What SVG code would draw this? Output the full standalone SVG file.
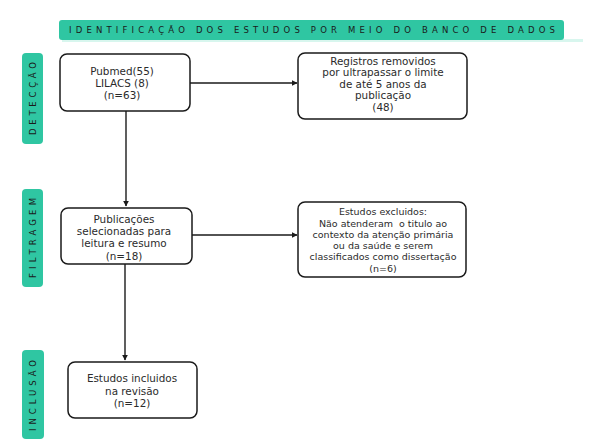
<svg xmlns="http://www.w3.org/2000/svg" width="595" height="444" viewBox="0 0 595 444">
<defs>
<marker id="ah" viewBox="0 0 10 10" refX="9" refY="5" markerWidth="6" markerHeight="6" markerUnits="userSpaceOnUse" orient="auto">
<path d="M0,0 L10,5 L0,10 z" fill="#1a1a1a"/>
</marker>
<style>
.bar{fill:#2fc6a2}
.box{fill:#ffffff;stroke:#1a1a1a;stroke-width:1.5}
.t{font-family:"DejaVu Sans",sans-serif;font-size:10.4px;fill:#2b2b2b;text-anchor:middle}
.ts{font-family:"DejaVu Sans",sans-serif;font-size:9.5px;fill:#2b2b2b;text-anchor:middle}
.lab{font-family:"DejaVu Sans",sans-serif;font-size:8.5px;fill:#1a1a1a;text-anchor:middle}
.c{fill:none;stroke:#1a1a1a;stroke-width:1.4}
</style>
</defs>
<rect width="595" height="444" fill="#ffffff"/>
<g id="title">
<rect x="62" y="39" width="521" height="3" fill="#d8f6ee"/>
<rect class="bar" x="59" y="20" width="505" height="20" rx="3"/>
<text class="lab" x="69" y="33.2" style="text-anchor:start" textLength="486" lengthAdjust="spacing">IDENTIFICAÇÃO DOS ESTUDOS POR MEIO DO BANCO DE DADOS</text>
</g>
<g id="label-deteccao">
<rect class="bar" x="22" y="53" width="21" height="91" rx="4"/>
<text class="lab" transform="translate(35.5,98.5) rotate(-90)" x="0" y="0" textLength="73" lengthAdjust="spacing">DETECÇÃO</text>
</g>
<g id="label-filtragem">
<rect class="bar" x="22" y="189" width="21" height="98" rx="4"/>
<text class="lab" transform="translate(35.5,238) rotate(-90)" x="0" y="0" textLength="80" lengthAdjust="spacing">FILTRAGEM</text>
</g>
<g id="label-inclusao">
<rect class="bar" x="22" y="350" width="22" height="89" rx="4"/>
<text class="lab" transform="translate(36,395.5) rotate(-90)" x="0" y="0" textLength="71" lengthAdjust="spacing">INCLUSÃO</text>
</g>
<g id="connectors">
<line class="c" x1="190" y1="83" x2="297" y2="83" marker-end="url(#ah)"/>
<line class="c" x1="126" y1="111" x2="126" y2="206" marker-end="url(#ah)"/>
<line class="c" x1="192" y1="235" x2="297" y2="235" marker-end="url(#ah)"/>
<line class="c" x1="125" y1="264" x2="125" y2="360" marker-end="url(#ah)"/>
</g>
<g id="node-busca">
<rect class="box" x="60" y="54" width="130" height="57" rx="7"/>
<text class="t" x="122" y="74.5">Pubmed(55)</text>
<text class="t" x="122" y="86.5">LILACS (8)</text>
<text class="t" x="122" y="98.5">(n=63)</text>
</g>
<g id="node-removidos">
<rect class="box" x="298" y="53" width="169" height="66" rx="7"/>
<text class="t" x="383" y="64.5">Registros removidos</text>
<text class="t" x="383" y="76">por ultrapassar o limite</text>
<text class="t" x="383" y="87.5">de até 5 anos da</text>
<text class="t" x="383" y="99">publicação</text>
<text class="t" x="383" y="110.5">(48)</text>
</g>
<g id="node-selecionadas">
<rect class="box" x="61" y="208" width="131" height="56" rx="7"/>
<text class="t" x="124" y="222.5">Publicações</text>
<text class="t" x="124" y="235">selecionadas para</text>
<text class="t" x="124" y="247">leitura e resumo</text>
<text class="t" x="124" y="259.5">(n=18)</text>
</g>
<g id="node-excluidos">
<rect class="box" x="298" y="202" width="168" height="75" rx="7"/>
<text class="ts" x="383" y="215">Estudos excluidos:</text>
<text class="ts" x="383" y="226.5">Não atenderam&#160; o titulo ao</text>
<text class="ts" x="383" y="237.5">contexto da atenção primária</text>
<text class="ts" x="383" y="248.5">ou da saúde e serem</text>
<text class="ts" x="383" y="259.5">classificados como dissertação</text>
<text class="ts" x="383" y="272">(n=6)</text>
</g>
<g id="node-incluidos">
<rect class="box" x="68" y="362" width="129" height="56" rx="7"/>
<text class="t" x="132" y="381.5">Estudos incluidos</text>
<text class="t" x="132" y="395">na revisão</text>
<text class="t" x="132" y="407">(n=12)</text>
</g>
</svg>
